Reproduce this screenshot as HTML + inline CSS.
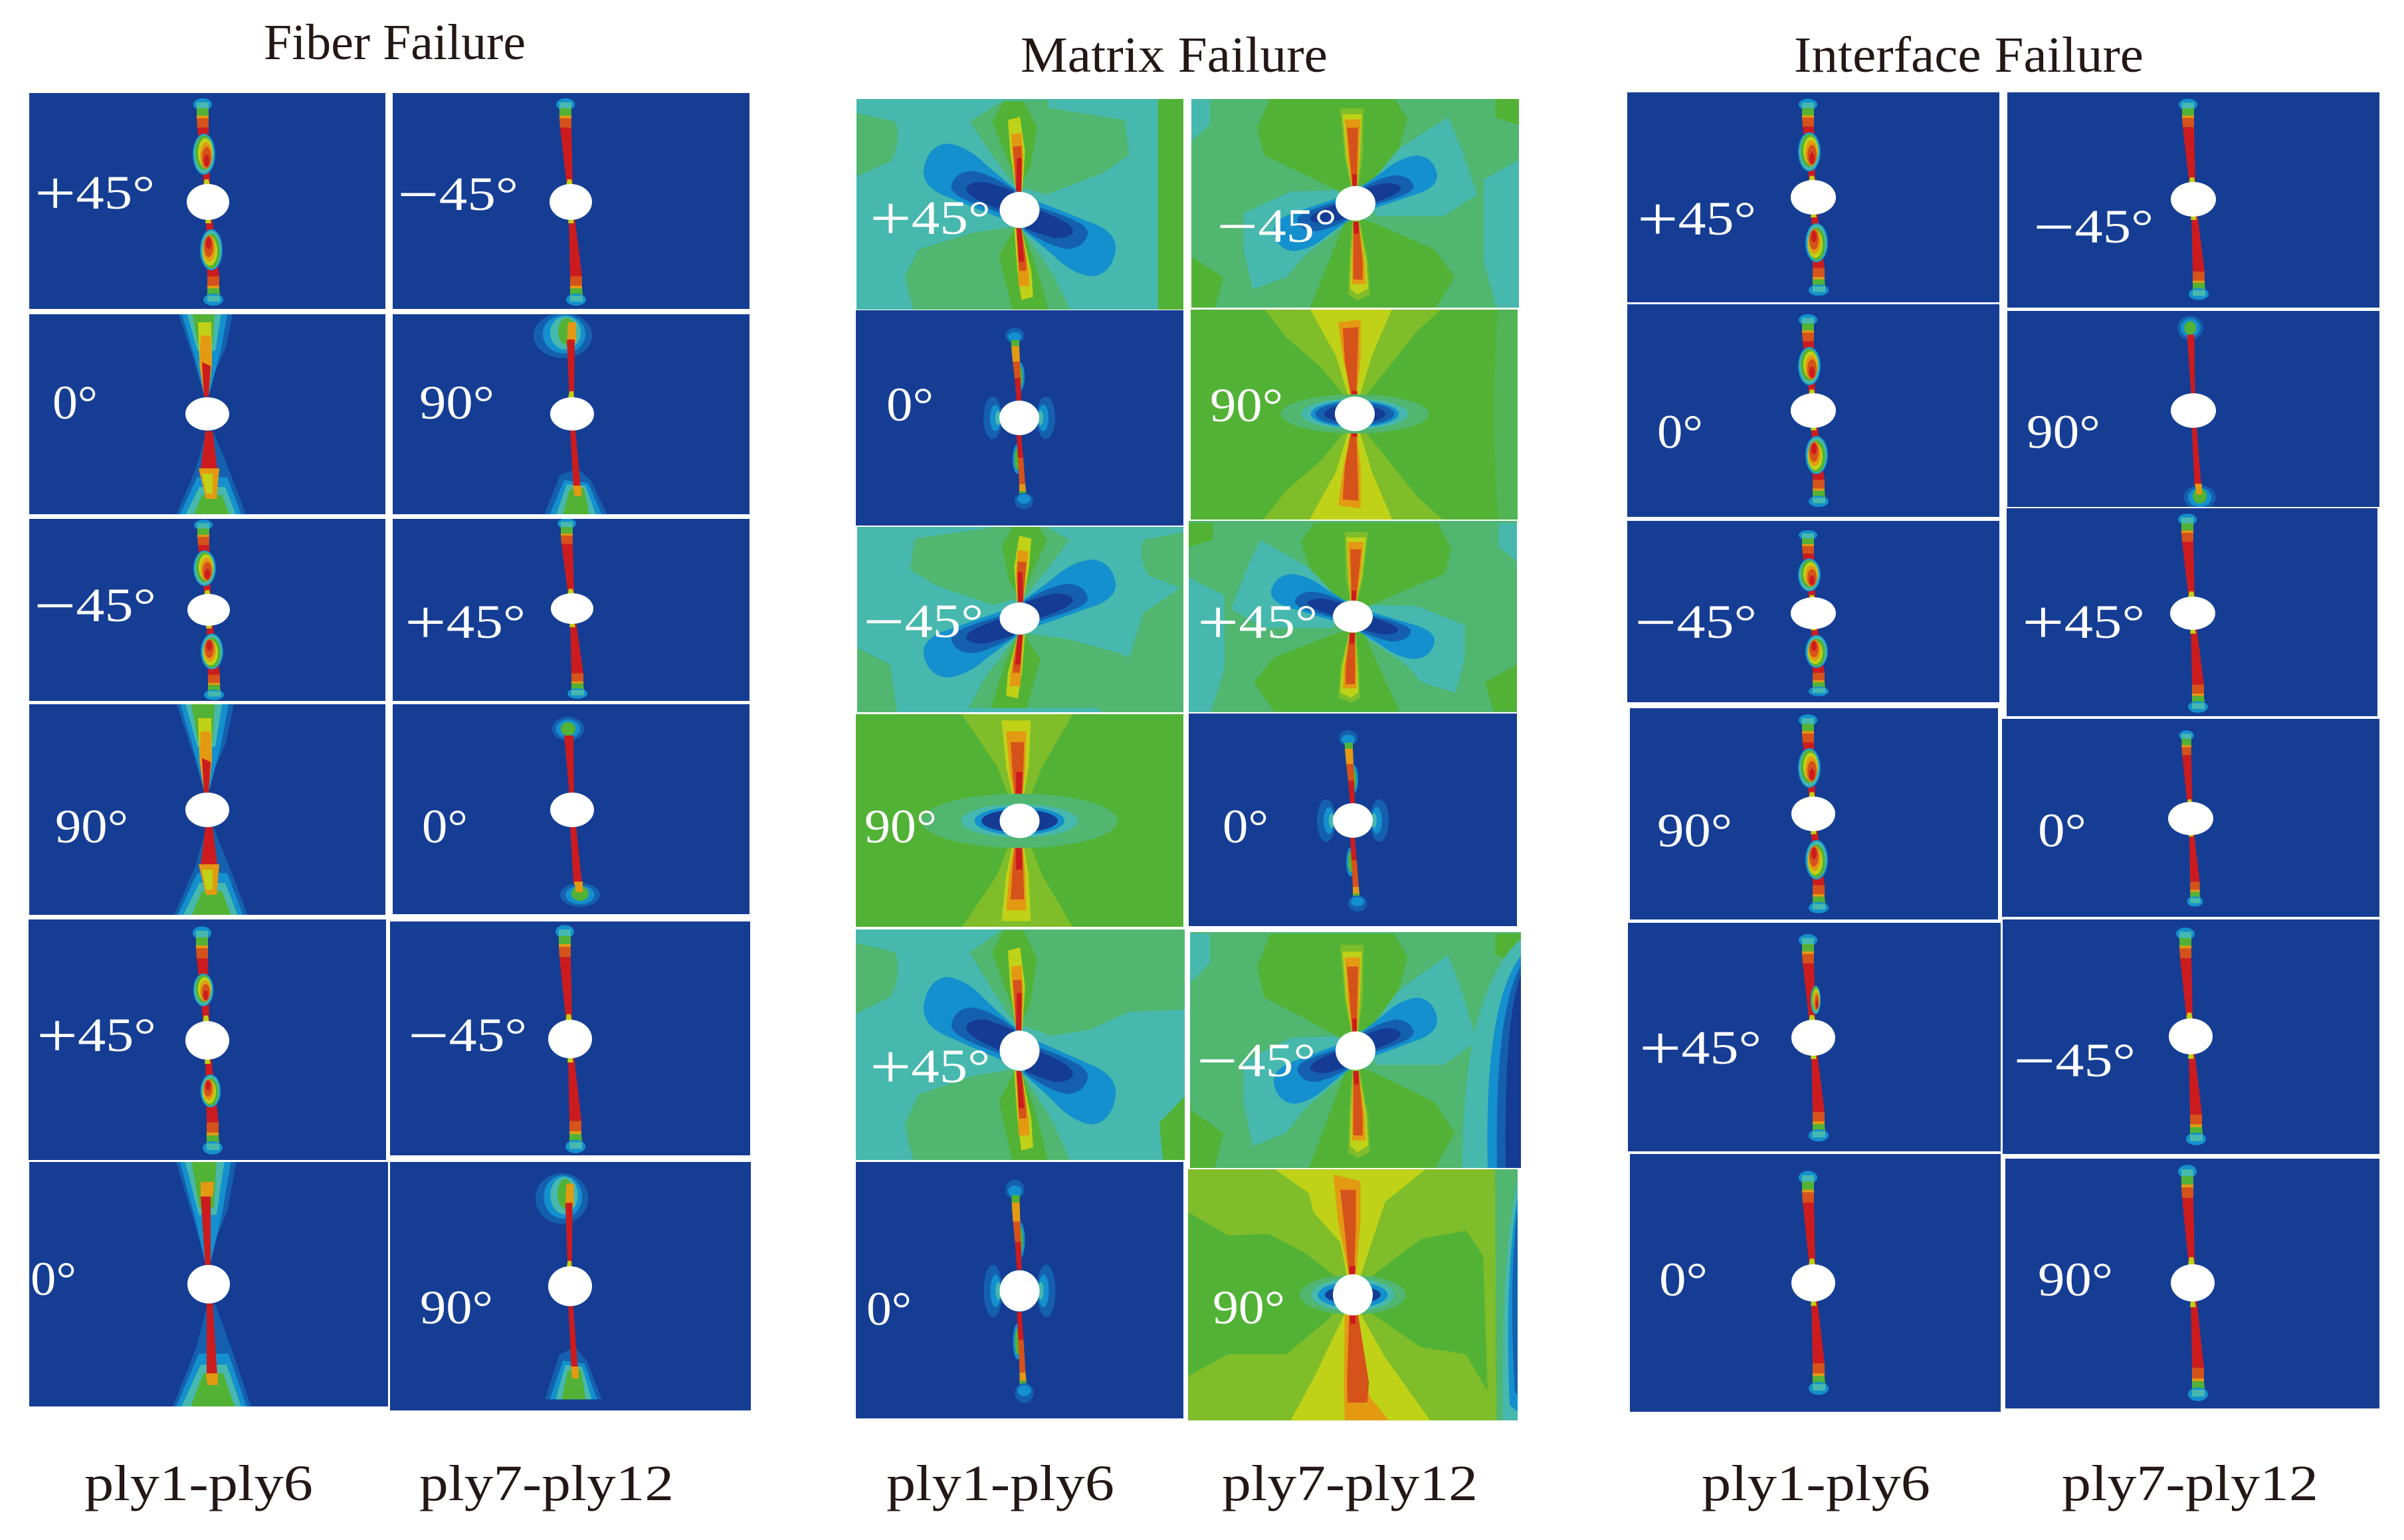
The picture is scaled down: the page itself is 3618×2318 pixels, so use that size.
<!DOCTYPE html>
<html lang="en">
<head>
<meta charset="utf-8">
<title>Fiber, matrix and interface failure contours</title>
<style>
html,body{margin:0;padding:0;background:#fff;width:3618px;height:2318px;overflow:hidden}
svg{display:block}
.t{fill:#47b8ae}.g{fill:#50b670}.b{fill:#52b235}.y{fill:#7fbd2a}.yy{fill:#c0d217}.o{fill:#e39a12}.r{fill:#d5521a}.R{fill:#cc1b1e}.l{fill:#1390cd}.m{fill:#1560ae}.d{fill:#143c94}.n{fill:#153d94}.h{fill:#fff}
.head{font-family:"Liberation Serif",serif;font-size:76px;fill:#231815}
.foot{font-family:"Liberation Serif",serif;font-size:76px;fill:#231815}
.ang{font-family:"Liberation Serif",serif;font-size:72px;fill:#fff}
.s{font-size:94px}
</style>
</head>
<body>
<svg xmlns="http://www.w3.org/2000/svg" width="3618" height="2318" viewBox="0 0 3618 2318">
<defs>
  <g id="lobe">
    <path class="l" d="M-214,-130 Q-206,-210 -161,-218 Q-116,-210 -76,-150 Q-36,-100 -6,-65 L-36,30 Q-106,-10 -156,-40 Q-216,-70 -214,-130Z"/>
    <path class="m" d="M-151,-85 Q-141,-125 -106,-128 Q-66,-120 -11,-65 L-41,10 Q-106,-20 -136,-45 Q-156,-65 -151,-85Z"/>
    <path class="d" d="M-118,-75 Q-106,-95 -76,-92 Q-46,-80 -11,-60 L-41,0 Q-96,-30 -111,-50 Q-121,-65 -118,-75Z"/>
  </g>
  <g id="m45">
    <path class="g" d="M-370,-320 L-276,-290 Q-262,-230 -286,-160 L-370,-105Z"/>
    <path class="g" d="M64,-335 L234,-295 L244,-180 L184,-120 L59,-50 L14,-70 L-6,-70 L-61,-180 L-111,-290 L-36,-360 L64,-360Z"/>
    <path class="g" d="M-256,220 L-226,130 L-106,75 L-16,55 L4,60 L74,210 L114,330 L-236,330Z"/>
    <polygon class="b" points="-61,-290 -36,-355 9,-355 39,-270 24,-140 -1,-70"/>
    <polygon class="b" points="-11,60 -46,150 -16,330 64,330 34,170 4,60"/>
    <use href="#lobe"/>
    <use href="#lobe" transform="rotate(180)"/>
    <polygon class="yy" points="-26,-295 1,-305 12,-190 6,-60 -8,-60 -21,-190"/>
    <polygon class="o" points="-19,-248 4,-252 8,-170 4,-60 -8,-60 -15,-170"/>
    <polygon class="r" points="-15,-208 4,-210 6,-150 4,-60 -8,-60 -12,-150"/>
    <polygon class="R" points="-6,-170 4,-170 4,-60 -8,-60"/>
    <polygon class="yy" points="-12,60 4,60 26,200 30,285 4,295 -5,200"/>
    <polygon class="o" points="-8,60 4,60 20,200 22,250 -2,250 -3,200"/>
    <polygon class="r" points="-8,60 4,60 14,160 15,200 -1,200 -3,150"/>
    <polygon class="R" points="-6,60 4,60 10,170 -2,170"/>
  </g>
  <g id="m45n">
    <polygon class="t" points="-249,32 -144,-38 -39,-43 -24,72 -114,172 -154,242 -229,282 -249,152"/>
    <polygon class="t" points="16,-58 96,-178 206,-283 236,-178 271,-28 196,42 46,42"/>
    <polygon class="t" points="-370,-345 -324,-345 -324,-258 -370,-198"/>
    <polygon class="t" points="370,-148 286,-78 286,192 316,352 370,352"/>
    <polygon class="b" points="-190,-345 -219,-248 -204,-158 -104,-88 -34,-38 -4,-58 31,-63 96,-178 116,-278 86,-345"/>
    <polygon class="b" points="-24,62 -104,350 176,350 221,242 176,152 46,67 16,52"/>
    <polygon class="b" points="-370,172 -294,242 -314,350 -370,350"/>
    <polygon class="b" points="311,-345 311,-283 370,-253 370,-345"/>
    <use href="#lobe" transform="scale(-.85,.72)"/>
    <use href="#lobe" transform="rotate(180) scale(-.85,.72)"/>
    <polygon class="y" points="-34,-312 18,-312 16,-150 6,-55 -10,-55 -24,-150"/>
    <polygon class="yy" points="-29,-292 14,-292 10,-150 4,-55 -8,-55 -20,-150"/>
    <polygon class="o" points="-24,-275 11,-275 8,-150 4,-55 -8,-55 -17,-150"/>
    <polygon class="r" points="-19,-248 6,-248 4,-150 3,-55 -7,-55 -13,-150"/>
    <polygon class="R" points="-7,-95 3,-95 3,-55 -7,-55"/>
    <polygon class="y" points="-7,55 9,55 28,190 32,300 4,318 -16,300 -14,190"/>
    <polygon class="yy" points="-5,60 7,60 24,190 28,280 4,300 -12,280 -10,190"/>
    <polygon class="o" points="-5,60 7,60 20,190 22,265 -8,265 -8,190"/>
    <polygon class="r" points="-5,60 7,60 16,190 16,250 -5,250 -5,190"/>
    <polygon class="R" points="-5,60 7,60 7,100 -3,100"/>
  </g>
  <g id="m90top">
    <polygon class="y" points="-212,-363 -152,-250 -77,-155 -12,-40 13,-40 68,-140 138,-270 208,-363"/>
    <polygon class="yy" points="-107,-363 -42,-190 -12,-45 8,-45 38,-190 88,-363"/>
    <polygon class="o" points="-37,-300 13,-310 13,-180 3,-45 -7,-45 -27,-190"/>
    <polygon class="r" points="-27,-280 8,-285 6,-170 3,-45 -7,-45 -22,-170"/>
    <polygon class="R" points="-7,-75 6,-75 3,-40 -7,-40"/>
  </g>
  <g id="m90">
    <path class="g" d="M320,-363 Q300,0 320,363 L380,363 L380,-363Z" opacity=".55"/>
    <use href="#m90top"/>
    <use href="#m90top" transform="scale(1,-1)"/>
    <ellipse class="g" rx="165" ry="64"/>
    <ellipse class="t" rx="119" ry="50"/>
    <ellipse class="l" rx="98" ry="44"/>
    <ellipse class="m" rx="88" ry="38"/>
    <ellipse class="d" rx="68" ry="30"/>
  </g>
  <g id="m90btop">
    <polygon class="y" points="-136,-410 -50,-200 -15,-50 15,-50 50,-200 125,-410"/>
    <polygon class="yy" points="-40,-370 25,-370 20,-200 5,-50 -10,-50 -30,-200"/>
    <polygon class="o" points="-30,-330 15,-330 12,-180 5,-50 -8,-50 -22,-180"/>
    <polygon class="r" points="-20,-290 10,-290 8,-160 4,-50 -8,-50 -15,-160"/>
    <polygon class="R" points="-8,-180 6,-180 4,-50 -8,-50"/>
  </g>
  <g id="m90b">
    <use href="#m90btop"/>
    <use href="#m90btop" transform="scale(1,-1)"/>
    <ellipse class="g" rx="218" ry="100"/>
    <ellipse class="t" rx="130" ry="62"/>
    <ellipse class="l" rx="100" ry="52"/>
    <ellipse class="d" rx="85" ry="42"/>
  </g>
  <g id="m90c">
    <polygon class="b" points="-380,-255 -278,-175 -188,-180 -108,-125 -28,-45 -48,65 -148,175 -278,175 -380,250"/>
    <polygon class="b" points="42,-55 152,-165 252,-190 290,-115 300,285 252,175 152,155 42,55"/>
    <polygon class="yy" points="-173,-370 -98,-300 -88,-245 -28,-155 -13,-55 17,-55 72,-275 162,-370"/>
    <polygon class="yy" points="-138,370 -83,235 -18,55 17,55 72,185 172,370"/>
    <polygon class="o" points="-43,-355 17,-335 17,-215 7,-55 -8,-55 -33,-215"/>
    <polygon class="r" points="-28,-310 7,-310 7,-215 3,-55 -8,-55 -20,-215"/>
    <polygon class="o" points="-18,60 12,60 37,300 80,370 -18,370 -20,280"/>
    <polygon class="r" points="-8,60 12,60 36,260 32,318 -12,318 -13,260"/>
    <polygon class="R" points="-8,-85 6,-85 3,-40 -8,-40"/>
    <polygon class="R" points="-8,45 6,45 6,85 -6,85"/>
    <ellipse class="g" rx="118" ry="58"/>
    <ellipse class="t" rx="92" ry="48"/>
    <ellipse class="l" rx="78" ry="38"/>
    <ellipse class="d" rx="62" ry="26"/>
  </g>
  <g id="c1">
    <ellipse class="l" cx="-8" cy="-147" rx="14" ry="9"/>
    <polygon class="t" points="-17,-150 1,-150 1,-141 -17,-141"/>
    <polygon class="b" points="-17,-141 1,-141 1,-130 -17,-130"/>
    <polygon class="o" points="-17,-130 1,-130 1,-126 -17,-126"/>
    <polygon class="r" points="-17,-126 1,-126 1,-112 -16,-112"/>
    <polygon class="R" points="-16,-112 1,-112 3,-24 -6,-24"/>
    <polygon class="yy" points="-5,-34 1,-34 3,-24 -7,-24"/>
    <polygon class="R" points="-3,24 6,24 17,112 -1,112"/>
    <polygon class="yy" points="-3,24 3,24 5,32 -4,32"/>
    <polygon class="r" points="-1,112 17,112 17,126 -1,126"/>
    <polygon class="o" points="-1,126 17,126 17,130 -1,130"/>
    <polygon class="b" points="-1,130 17,130 18,141 -1,141"/>
    <ellipse class="l" cx="8" cy="147" rx="15" ry="9"/>
    <polygon class="t" points="-1,141 18,141 18,150 -1,150"/>
  </g>
  <g id="bulge">
    <ellipse class="l" cx="-1" rx="17" ry="31"/>
    <ellipse class="t" cx="-1" rx="15" ry="29"/>
    <ellipse class="b" cx="-1" cy="-2" rx="13" ry="26"/>
    <ellipse class="yy" cx="1" cy="-2" rx="11" ry="22"/>
    <ellipse class="o" cx="2" cy="2" rx="9" ry="20"/>
    <ellipse class="r" cx="3" cy="5" rx="7" ry="16"/>
    <ellipse class="R" cx="3" cy="10" rx="4" ry="9"/>
  </g>
  <g id="c2">
    <use href="#c1"/>
    <use href="#bulge" transform="translate(-5,-72)"/>
    <use href="#bulge" transform="translate(4,72) rotate(180)"/>
  </g>
  <g id="flare">
    <polygon class="m" points="-50,-170 42,-170 28,-100 10,-60 2,-28 -5,-28 -20,-80"/>
    <polygon class="l" points="-44,-170 34,-170 20,-95 3,-30 -5,-30 -19,-85"/>
    <polygon class="t" points="-36,-170 24,-170 12,-95 -15,-95"/>
    <polygon class="b" points="-26,-170 12,-170 8,-105 -14,-105"/>
    <polygon class="m" points="-55,170 65,170 35,90 10,28 -2,28 -18,85"/>
    <polygon class="l" points="-50,170 58,170 30,95 -15,95"/>
    <polygon class="t" points="-42,170 50,170 27,110 -12,110"/>
    <polygon class="b" points="-28,170 40,170 22,122 -8,122"/>
  </g>
  <g id="c3">
    <use href="#flare"/>
    <polygon class="yy" points="-14,-138 6,-138 7,-85 2,-28 -5,-28 -12,-85"/>
    <polygon class="o" points="-10,-118 5,-118 7,-75 2,-28 -5,-28 -12,-75"/>
    <polygon class="R" points="-8,-78 5,-72 2,-26 -5,-26"/>
    <polygon class="R" points="-3,26 8,26 15,82 -10,82"/>
    <polygon class="o" points="-13,82 18,82 14,128 -2,128"/>
    <polygon class="yy" points="-8,90 8,90 8,120 -2,120"/>
  </g>
  <g id="c6">
    <use href="#flare"/>
    <polygon class="o" points="-12,-140 8,-140 6,-120 -12,-118"/>
    <polygon class="R" points="-12,-120 3,-120 3,-24 -5,-24"/>
    <polygon class="R" points="-3,24 6,24 13,125 -3,125"/>
    <polygon class="o" points="-4,122 14,122 14,138 -2,138"/>
  </g>
  <g id="c4">
    <ellipse class="m" cx="-14" cy="-118" rx="44" ry="34"/>
    <ellipse class="l" cx="-12" cy="-120" rx="32" ry="29"/>
    <ellipse class="t" cx="-10" cy="-122" rx="23" ry="25"/>
    <ellipse class="b" cx="-8" cy="-124" rx="13" ry="20"/>
    <polygon class="o" points="-6,-138 6,-138 6,-108 -8,-108"/>
    <polygon class="R" points="-8,-112 4,-112 3,-24 -4,-24"/>
    <polygon class="yy" points="-4,-34 2,-34 3,-24 -6,-24"/>
    <polygon class="m" points="-42,152 53,152 28,100 8,82 -18,92"/>
    <polygon class="l" points="-34,152 45,152 24,104 -12,100"/>
    <polygon class="t" points="-24,152 36,152 20,108 -8,106"/>
    <polygon class="b" points="-14,152 26,152 18,112 -4,114"/>
    <polygon class="R" points="-3,24 5,24 13,112 2,112"/>
    <polygon class="o" points="1,108 14,108 14,124 4,124"/>
  </g>
  <g id="c4s">
    <ellipse class="m" cx="-6" cy="-122" rx="24" ry="18"/>
    <ellipse class="l" cx="-6" cy="-122" rx="18" ry="14"/>
    <ellipse class="b" cx="-6" cy="-122" rx="11" ry="10"/>
    <polygon class="R" points="-12,-112 2,-112 3,-24 -4,-24"/>
    <polygon class="R" points="-3,24 6,24 15,112 2,112"/>
    <ellipse class="m" cx="12" cy="128" rx="30" ry="18"/>
    <ellipse class="l" cx="12" cy="128" rx="22" ry="14"/>
    <ellipse class="b" cx="12" cy="126" rx="13" ry="11"/>
    <polygon class="o" points="3,108 16,108 16,124 6,124"/>
  </g>
  <g id="c5">
    <ellipse class="m" cx="-40" cy="0" rx="14" ry="32"/>
    <ellipse class="m" cx="40" cy="0" rx="14" ry="32"/>
    <ellipse class="l" cx="-36" cy="0" rx="8" ry="20"/>
    <ellipse class="l" cx="36" cy="0" rx="8" ry="20"/>
    <ellipse class="t" cx="-32" cy="0" rx="4" ry="11"/>
    <ellipse class="t" cx="32" cy="0" rx="4" ry="11"/>
    <ellipse class="m" cx="-7" cy="-124" rx="14" ry="12"/>
    <ellipse class="l" cx="-7" cy="-122" rx="10" ry="7"/>
    <polygon class="b" points="-12,-117 0,-117 0,-108 -12,-108"/>
    <polygon class="o" points="-12,-108 0,-108 1,-85 -10,-85"/>
    <ellipse class="l" cx="1" cy="-62" rx="7" ry="22"/>
    <ellipse class="b" cx="1" cy="-62" rx="4" ry="16"/>
    <polygon class="r" points="-10,-85 1,-85 2,-60 -7,-60"/>
    <polygon class="R" points="-7,-60 2,-60 3,-26 -4,-26"/>
    <ellipse class="l" cx="-3" cy="62" rx="7" ry="22"/>
    <ellipse class="b" cx="-3" cy="62" rx="4" ry="16"/>
    <polygon class="R" points="-4,26 3,26 6,60 -2,60"/>
    <polygon class="r" points="-2,60 6,60 9,100 0,100"/>
    <polygon class="o" points="0,100 9,100 10,110 0,110"/>
    <polygon class="b" points="0,110 10,110 11,118 0,118"/>
    <ellipse class="m" cx="7" cy="125" rx="14" ry="12"/>
    <ellipse class="l" cx="7" cy="122" rx="10" ry="7"/>
  </g>
  <g id="band-strong">
    <path class="t" d="M498,10 Q410,90 410,355 L498,355Z"/>
    <path class="l" d="M498,35 Q442,110 448,355 L498,355Z"/>
    <path class="m" d="M498,50 Q458,120 462,355 L498,355Z"/>
    <path class="d" d="M498,65 Q472,130 475,355 L498,355Z"/>
  </g>
</defs>

<rect width="3618" height="2318" fill="#fff"/>

<!-- FIBER FAILURE -->
<g>
<g><svg x="44" y="140" width="536" height="325" viewBox="44 140 536 325"><rect class="n" x="44" y="140" width="536" height="325"/><use href="#c2" transform="translate(313,304)"/><ellipse class="h" cx="313" cy="304" rx="32" ry="27"/></svg></g>
<g><svg x="591" y="140" width="537" height="325" viewBox="591 140 537 325"><rect class="n" x="591" y="140" width="537" height="325"/><use href="#c1" transform="translate(859,304)"/><ellipse class="h" cx="859" cy="304" rx="32" ry="27"/></svg></g>
<g><svg x="44" y="473" width="536" height="301" viewBox="44 473 536 301"><rect class="n" x="44" y="473" width="536" height="301"/><use href="#c3" transform="translate(312,623)"/><ellipse class="h" cx="312" cy="623" rx="33" ry="25"/></svg></g>
<g><svg x="591" y="473" width="537" height="301" viewBox="591 473 537 301"><rect class="n" x="591" y="473" width="537" height="301"/><use href="#c4" transform="translate(861,623)"/><ellipse class="h" cx="861" cy="623" rx="33" ry="25"/></svg></g>
<g><svg x="44" y="781" width="536" height="274" viewBox="44 781 536 274"><rect class="n" x="44" y="781" width="536" height="274"/><use href="#c2" transform="translate(314,918) scale(1,.87)"/><ellipse class="h" cx="314" cy="918" rx="32" ry="24"/></svg></g>
<g><svg x="591" y="781" width="537" height="274" viewBox="591 781 537 274"><rect class="n" x="591" y="781" width="537" height="274"/><use href="#c1" transform="translate(861,916) scale(1,.87)"/><ellipse class="h" cx="861" cy="916" rx="32" ry="23"/></svg></g>
<g><svg x="44" y="1060" width="536" height="317" viewBox="44 1060 536 317"><rect class="n" x="44" y="1060" width="536" height="317"/><use href="#c3" transform="translate(312,1219)"/><ellipse class="h" cx="312" cy="1219" rx="33" ry="26"/></svg></g>
<g><svg x="591" y="1060" width="537" height="316" viewBox="591 1060 537 316"><rect class="n" x="591" y="1060" width="537" height="316"/><use href="#c4s" transform="translate(861,1219)"/><ellipse class="h" cx="861" cy="1219" rx="33" ry="26"/></svg></g>
<g><svg x="43" y="1384" width="538" height="362" viewBox="43 1384 538 362"><rect class="n" x="43" y="1384" width="538" height="362"/><use href="#c1" transform="translate(312,1566) scale(1,1.1)"/><use href="#bulge" transform="translate(307,1490) scale(.9,.8)"/><use href="#bulge" transform="translate(316,1642) rotate(180) scale(.9,.8)"/><ellipse class="h" cx="312" cy="1566" rx="33" ry="29"/></svg></g>
<g><svg x="587" y="1387" width="542" height="352" viewBox="587 1387 542 352"><rect class="n" x="587" y="1387" width="542" height="352"/><use href="#c1" transform="translate(858,1564) scale(1,1.1)"/><ellipse class="h" cx="858" cy="1564" rx="33" ry="29"/></svg></g>
<g><svg x="44" y="1749" width="540" height="368" viewBox="44 1749 540 368"><rect class="n" x="44" y="1749" width="540" height="368"/><use href="#c6" transform="translate(314,1933) scale(1,1.1)"/><ellipse class="h" cx="314" cy="1933" rx="32" ry="29"/></svg></g>
<g><svg x="587" y="1749" width="543" height="374" viewBox="587 1749 543 374"><rect class="n" x="587" y="1749" width="543" height="374"/><use href="#c4" transform="translate(858,1936) scale(.9,1.12)"/><ellipse class="h" cx="858" cy="1936" rx="33" ry="30"/></svg></g>
</g>

<!-- MATRIX FAILURE -->
<g>
<g><svg x="1289" y="149" width="492" height="317" viewBox="1289 149 492 317"><rect class="t" x="1289" y="149" width="492" height="317"/><use href="#m45" transform="translate(1534.5,316) scale(.676,.459)"/><rect class="b" x="1743" y="149" width="38" height="317"/><ellipse class="h" cx="1534.5" cy="316" rx="30" ry="27"/></svg></g>
<g><svg x="1793" y="149" width="493" height="314" viewBox="1793 149 493 314"><rect class="g" x="1793" y="149" width="493" height="314"/><use href="#m45n" transform="translate(2040,306) scale(.676,.459)"/><ellipse class="h" cx="2040" cy="306" rx="30" ry="26"/></svg></g>
<g><svg x="1288" y="467" width="493" height="324" viewBox="1288 467 493 324"><rect class="n" x="1288" y="467" width="493" height="324"/><use href="#c5" transform="translate(1534,629)"/><ellipse class="h" cx="1534" cy="629" rx="30" ry="26"/></svg></g>
<g><svg x="1792" y="466" width="492" height="316" viewBox="1792 466 492 316"><rect class="b" x="1792" y="466" width="492" height="316"/><use href="#m90" transform="translate(2039,623) scale(.676,.459)"/><ellipse class="h" cx="2039" cy="623" rx="30" ry="26"/></svg></g>
<g><svg x="1290" y="793" width="491" height="279" viewBox="1290 793 491 279"><rect class="t" x="1290" y="793" width="491" height="279"/><polygon class="g" points="1557,956 1700,989 1720,923 1781,882 1781,1072 1659,1072 1584,1009"/><polygon class="g" points="1290,975 1340,1000 1350,1072 1290,1072"/><use href="#m45" transform="translate(1534.5,931) scale(-.676,.408)"/><ellipse class="h" cx="1534.5" cy="931" rx="30" ry="24"/></svg></g>
<g><svg x="1789" y="784" width="494" height="288" viewBox="1789 784 494 288"><rect class="g" x="1789" y="784" width="494" height="288"/><use href="#m45n" transform="translate(2036,928) scale(-.676,.408)"/><ellipse class="h" cx="2036" cy="928" rx="30" ry="24"/></svg></g>
<g><svg x="1288" y="1075" width="493" height="320" viewBox="1288 1075 493 320"><rect class="b" x="1288" y="1075" width="493" height="320"/><use href="#m90b" transform="translate(1534.5,1235.5) scale(.676,.408)"/><ellipse class="h" cx="1534.5" cy="1235.5" rx="30" ry="26"/></svg></g>
<g><svg x="1789" y="1074" width="494" height="320" viewBox="1789 1074 494 320"><rect class="n" x="1789" y="1074" width="494" height="320"/><use href="#c5" transform="translate(2036,1235)"/><ellipse class="h" cx="2036" cy="1235" rx="30" ry="26"/></svg></g>
<g><svg x="1288" y="1399" width="495" height="347" viewBox="1288 1399 495 347"><rect class="t" x="1288" y="1399" width="495" height="347"/><polygon class="g" points="1561,1399 1783,1399 1783,1520 1699,1523 1640,1550 1575,1560"/><polygon class="b" points="1783,1650 1745,1690 1750,1746 1783,1746"/><use href="#m45" transform="translate(1534.5,1581.5) scale(.676,.51)"/><ellipse class="h" cx="1534.5" cy="1581.5" rx="30" ry="30"/></svg></g>
<g><svg x="1791" y="1403" width="498" height="355" viewBox="1791 1403 498 355"><rect class="g" x="1791" y="1403" width="498" height="355"/><use href="#m45n" transform="translate(2040,1581.5) scale(.676,.51)"/><use href="#band-strong" transform="translate(1791,1403)"/><ellipse class="h" cx="2040" cy="1581.5" rx="30" ry="29"/></svg></g>
<g><svg x="1288" y="1749" width="493" height="386" viewBox="1288 1749 493 386"><rect class="n" x="1288" y="1749" width="493" height="386"/><use href="#c5" transform="translate(1534.5,1943) scale(1,1.23)"/><ellipse class="h" cx="1534.5" cy="1943" rx="30" ry="31"/></svg></g>
<g><svg x="1788" y="1760" width="496" height="378" viewBox="1788 1760 496 378"><rect class="y" x="1788" y="1760" width="496" height="378"/><use href="#m90c" transform="translate(2036,1949) scale(.676,.51)"/><path class="g" d="M2250,1760 L2284,1760 L2284,2138 L2252,2138Z"/><path class="t" d="M2284,1775 Q2258,1900 2262,2138 L2284,2138Z"/><path class="l" d="M2284,1800 Q2264,1920 2272,2115 L2284,2125Z"/><path class="m" d="M2284,1820 Q2270,1930 2280,2095 L2284,2100Z"/><ellipse class="h" cx="2036" cy="1949" rx="30" ry="31"/></svg></g>
</g>

<!-- INTERFACE FAILURE -->
<g>
<g><svg x="2449" y="139" width="560" height="316" viewBox="2449 139 560 316"><rect class="n" x="2449" y="139" width="560" height="316"/><use href="#c2" transform="translate(2729,297) scale(1,.95)"/><ellipse class="h" cx="2729" cy="297" rx="34" ry="26"/></svg></g>
<g><svg x="3021" y="139" width="560" height="324" viewBox="3021 139 560 324"><rect class="n" x="3021" y="139" width="560" height="324"/><use href="#c1" transform="translate(3301,300) scale(1,.97)"/><ellipse class="h" cx="3301" cy="300" rx="34" ry="26"/></svg></g>
<g><svg x="2449" y="458" width="560" height="320" viewBox="2449 458 560 320"><rect class="n" x="2449" y="458" width="560" height="320"/><use href="#c2" transform="translate(2729,618) scale(1,.93)"/><ellipse class="h" cx="2729" cy="618" rx="34" ry="26"/></svg></g>
<g><svg x="3021" y="468" width="560" height="295" viewBox="3021 468 560 295"><rect class="n" x="3021" y="468" width="560" height="295"/><use href="#c4s" transform="translate(3301,618) scale(.8,1.02)"/><ellipse class="h" cx="3301" cy="618" rx="34" ry="26"/></svg></g>
<g><svg x="2449" y="784" width="560" height="273" viewBox="2449 784 560 273"><rect class="n" x="2449" y="784" width="560" height="273"/><use href="#c2" transform="translate(2729,923) scale(1,.8)"/><ellipse class="h" cx="2729" cy="923" rx="34" ry="24"/></svg></g>
<g><svg x="3020" y="765" width="558" height="313" viewBox="3020 765 558 313"><rect class="n" x="3020" y="765" width="558" height="313"/><use href="#c1" transform="translate(3300,923) scale(1,.96)"/><ellipse class="h" cx="3300" cy="923" rx="34" ry="25"/></svg></g>
<g><svg x="2453" y="1066" width="554" height="318" viewBox="2453 1066 554 318"><rect class="n" x="2453" y="1066" width="554" height="318"/><use href="#c2" transform="translate(2729,1225) scale(1,.96)"/><ellipse class="h" cx="2729" cy="1225" rx="33" ry="26"/></svg></g>
<g><svg x="3013" y="1082" width="568" height="298" viewBox="3013 1082 568 298"><rect class="n" x="3013" y="1082" width="568" height="298"/><use href="#c1" transform="translate(3297,1232) scale(.8,.85)"/><ellipse class="h" cx="3297" cy="1232" rx="34" ry="25"/></svg></g>
<g><svg x="2450" y="1389" width="561" height="344" viewBox="2450 1389 561 344"><rect class="n" x="2450" y="1389" width="561" height="344"/><use href="#c1" transform="translate(2729,1562)"/><use href="#bulge" transform="translate(2733,1505) scale(.45,.7)"/><ellipse class="h" cx="2729" cy="1562" rx="33" ry="27"/></svg></g>
<g><svg x="3014" y="1384" width="567" height="353" viewBox="3014 1384 567 353"><rect class="n" x="3014" y="1384" width="567" height="353"/><use href="#c1" transform="translate(3297,1560) scale(1,1.05)"/><ellipse class="h" cx="3297" cy="1560" rx="33" ry="27"/></svg></g>
<g><svg x="2453" y="1737" width="558" height="388" viewBox="2453 1737 558 388"><rect class="n" x="2453" y="1737" width="558" height="388"/><use href="#c1" transform="translate(2729,1931) scale(1,1.08)"/><ellipse class="h" cx="2729" cy="1931" rx="33" ry="28"/></svg></g>
<g><svg x="3018" y="1744" width="563" height="376" viewBox="3018 1744 563 376"><rect class="n" x="3018" y="1744" width="563" height="376"/><use href="#c1" transform="translate(3300,1931) scale(1,1.14)"/><ellipse class="h" cx="3300" cy="1931" rx="33" ry="28"/></svg></g>
</g>

<!-- TITLES -->
<text class="head" x="397" y="89" textLength="394" lengthAdjust="spacingAndGlyphs">Fiber Failure</text>
<text class="head" x="1536" y="108" textLength="462" lengthAdjust="spacingAndGlyphs">Matrix Failure</text>
<text class="head" x="2700" y="108" textLength="526" lengthAdjust="spacingAndGlyphs">Interface Failure</text>

<!-- FOOTER LABELS -->
<text class="foot" x="127" y="2258" textLength="344" lengthAdjust="spacingAndGlyphs">ply1-ply6</text>
<text class="foot" x="631" y="2258" textLength="383" lengthAdjust="spacingAndGlyphs">ply7-ply12</text>
<text class="foot" x="1334" y="2258" textLength="343" lengthAdjust="spacingAndGlyphs">ply1-ply6</text>
<text class="foot" x="1839" y="2258" textLength="385" lengthAdjust="spacingAndGlyphs">ply7-ply12</text>
<text class="foot" x="2561" y="2258" textLength="344" lengthAdjust="spacingAndGlyphs">ply1-ply6</text>
<text class="foot" x="3103" y="2258" textLength="386" lengthAdjust="spacingAndGlyphs">ply7-ply12</text>

<!-- ANGLE LABELS -->
<g>
<text class="ang" x="52" y="314" textLength="181" lengthAdjust="spacingAndGlyphs"><tspan class="s" dy="8">+</tspan><tspan dy="-8">45°</tspan></text>
<text class="ang" x="598" y="316" textLength="182" lengthAdjust="spacingAndGlyphs"><tspan class="s" dy="8">−</tspan><tspan dy="-8">45°</tspan></text>
<text class="ang" x="79" y="630" textLength="68" lengthAdjust="spacingAndGlyphs">0°</text>
<text class="ang" x="631" y="630" textLength="113" lengthAdjust="spacingAndGlyphs">90°</text>
<text class="ang" x="51" y="935" textLength="184" lengthAdjust="spacingAndGlyphs"><tspan class="s" dy="8">−</tspan><tspan dy="-8">45°</tspan></text>
<text class="ang" x="609" y="960" textLength="182" lengthAdjust="spacingAndGlyphs"><tspan class="s" dy="8">+</tspan><tspan dy="-8">45°</tspan></text>
<text class="ang" x="83" y="1268" textLength="110" lengthAdjust="spacingAndGlyphs">90°</text>
<text class="ang" x="635" y="1268" textLength="69" lengthAdjust="spacingAndGlyphs">0°</text>
<text class="ang" x="55" y="1582" textLength="180" lengthAdjust="spacingAndGlyphs"><tspan class="s" dy="8">+</tspan><tspan dy="-8">45°</tspan></text>
<text class="ang" x="614" y="1582" textLength="179" lengthAdjust="spacingAndGlyphs"><tspan class="s" dy="8">−</tspan><tspan dy="-8">45°</tspan></text>
<text class="ang" x="46" y="1949" textLength="69" lengthAdjust="spacingAndGlyphs">0°</text>
<text class="ang" x="632" y="1992" textLength="110" lengthAdjust="spacingAndGlyphs">90°</text>
</g>
<g>
<text class="ang" x="1309" y="352" textLength="182" lengthAdjust="spacingAndGlyphs"><tspan class="s" dy="8">+</tspan><tspan dy="-8">45°</tspan></text>
<text class="ang" x="1831" y="364" textLength="181" lengthAdjust="spacingAndGlyphs"><tspan class="s" dy="8">−</tspan><tspan dy="-8">45°</tspan></text>
<text class="ang" x="1334" y="633" textLength="71" lengthAdjust="spacingAndGlyphs">0°</text>
<text class="ang" x="1821" y="634" textLength="110" lengthAdjust="spacingAndGlyphs">90°</text>
<text class="ang" x="1299" y="959" textLength="181" lengthAdjust="spacingAndGlyphs"><tspan class="s" dy="8">−</tspan><tspan dy="-8">45°</tspan></text>
<text class="ang" x="1802" y="960" textLength="181" lengthAdjust="spacingAndGlyphs"><tspan class="s" dy="8">+</tspan><tspan dy="-8">45°</tspan></text>
<text class="ang" x="1301" y="1268" textLength="109" lengthAdjust="spacingAndGlyphs">90°</text>
<text class="ang" x="1840" y="1268" textLength="69" lengthAdjust="spacingAndGlyphs">0°</text>
<text class="ang" x="1309" y="1629" textLength="181" lengthAdjust="spacingAndGlyphs"><tspan class="s" dy="8">+</tspan><tspan dy="-8">45°</tspan></text>
<text class="ang" x="1801" y="1620" textLength="179" lengthAdjust="spacingAndGlyphs"><tspan class="s" dy="8">−</tspan><tspan dy="-8">45°</tspan></text>
<text class="ang" x="1304" y="1994" textLength="68" lengthAdjust="spacingAndGlyphs">0°</text>
<text class="ang" x="1825" y="1992" textLength="109" lengthAdjust="spacingAndGlyphs">90°</text>
</g>
<g>
<text class="ang" x="2464" y="353" textLength="179" lengthAdjust="spacingAndGlyphs"><tspan class="s" dy="8">+</tspan><tspan dy="-8">45°</tspan></text>
<text class="ang" x="3060" y="365" textLength="181" lengthAdjust="spacingAndGlyphs"><tspan class="s" dy="8">−</tspan><tspan dy="-8">45°</tspan></text>
<text class="ang" x="2494" y="674" textLength="69" lengthAdjust="spacingAndGlyphs">0°</text>
<text class="ang" x="3050" y="674" textLength="111" lengthAdjust="spacingAndGlyphs">90°</text>
<text class="ang" x="2460" y="960" textLength="184" lengthAdjust="spacingAndGlyphs"><tspan class="s" dy="8">−</tspan><tspan dy="-8">45°</tspan></text>
<text class="ang" x="3043" y="960" textLength="185" lengthAdjust="spacingAndGlyphs"><tspan class="s" dy="8">+</tspan><tspan dy="-8">45°</tspan></text>
<text class="ang" x="2494" y="1274" textLength="113" lengthAdjust="spacingAndGlyphs">90°</text>
<text class="ang" x="3067" y="1274" textLength="73" lengthAdjust="spacingAndGlyphs">0°</text>
<text class="ang" x="2467" y="1601" textLength="184" lengthAdjust="spacingAndGlyphs"><tspan class="s" dy="8">+</tspan><tspan dy="-8">45°</tspan></text>
<text class="ang" x="3030" y="1620" textLength="184" lengthAdjust="spacingAndGlyphs"><tspan class="s" dy="8">−</tspan><tspan dy="-8">45°</tspan></text>
<text class="ang" x="2497" y="1950" textLength="73" lengthAdjust="spacingAndGlyphs">0°</text>
<text class="ang" x="3067" y="1950" textLength="113" lengthAdjust="spacingAndGlyphs">90°</text>
</g>
</svg>
</body>
</html>
